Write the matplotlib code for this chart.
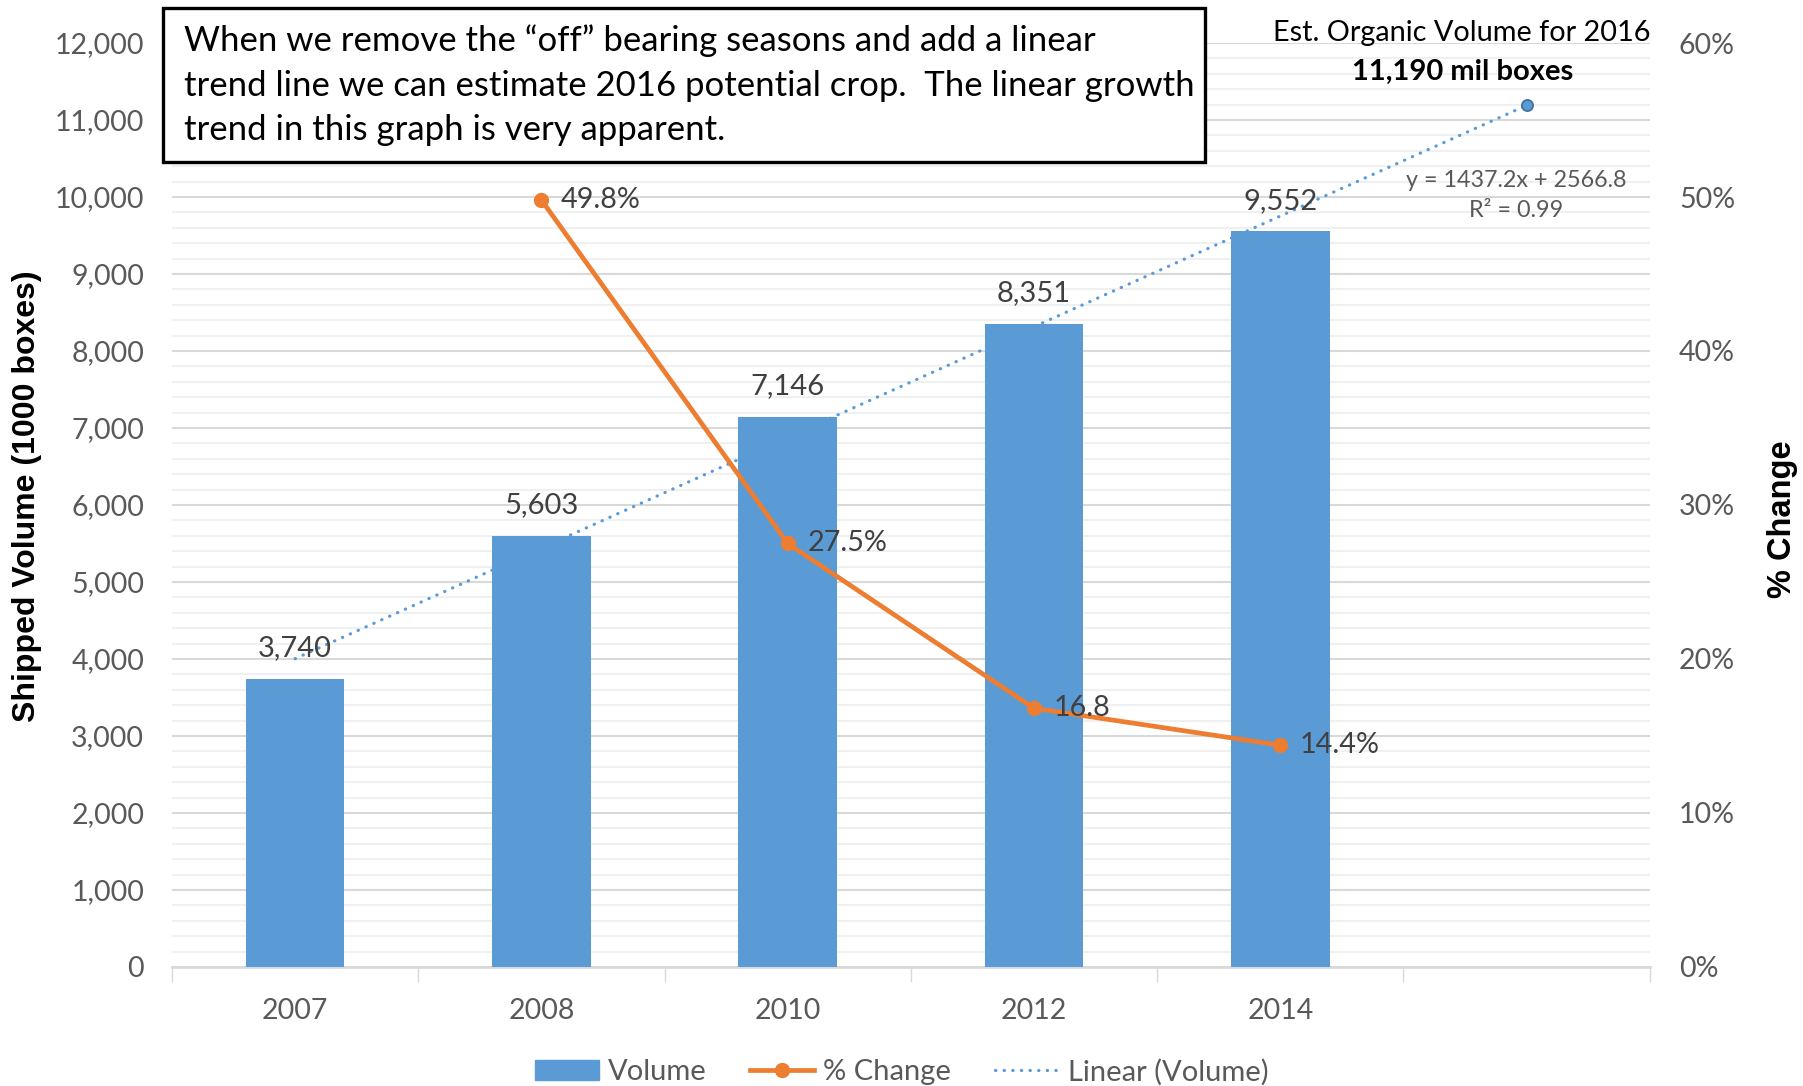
import numpy as np
import matplotlib.pyplot as plt
from matplotlib.lines import Line2D
from matplotlib.patches import Patch, Rectangle
from matplotlib.ticker import FuncFormatter, MultipleLocator

years = ["2007", "2008", "2010", "2012", "2014", ""]
volume = [3740, 5603, 7146, 8351, 9552]
pct_years = ["2008", "2010", "2012", "2014"]
pct_change = [49.8, 27.5, 16.8, 14.4]
pct_labels = ["49.8%", "27.5%", "16.8", "14.4%"]
note_lines = [
    "When we remove the \u201coff\u201d bearing seasons and add a linear",
    "trend line we can estimate 2016 potential crop.  The linear growth",
    "trend in this graph is very apparent.",
]

BLUE = "#5B9BD5"
ORANGE = "#ED7D31"
GRID = "#D9D9D9"
MINOR = "#F0F0F0"
TICK = "#595959"
LABEL = "#404040"
TREND = (0, (0.1, 2.6))

plt.rcParams["font.family"] = ["Lato", "DejaVu Sans"]

fig = plt.figure(figsize=(18.03, 10.86), dpi=100)
ax = fig.add_axes([0.0954, 0.1096, 0.8196, 0.8508])
ax2 = ax.twinx()

x = np.arange(len(years))
xv = x[:len(volume)]
ax.bar(xv, volume, width=0.4, color=BLUE, zorder=3)

# linear trend through the volume bars, projected one slot ahead (2016)
slope, intercept = np.polyfit(xv + 1, volume, 1)
tx = np.array([x[0], x[-1]])
ty = slope * (tx + 1) + intercept
ax.plot(tx, ty, color=BLUE, lw=2.3, linestyle=TREND, dash_capstyle="round", zorder=2)
ax.plot(tx[-1], ty[-1], "o", color=BLUE, mec="#41719C", mew=1.3, ms=8, zorder=4)

for xi, v in zip(xv, volume):
    ax.text(xi, v + 230, f"{v:,}", ha="center", va="bottom", fontsize=21, color=LABEL, zorder=5)

ax.set_xlim(-0.5, len(years) - 0.5)
ax.set_ylim(0, 12000)
ax.yaxis.set_major_locator(MultipleLocator(1000))
ax.yaxis.set_minor_locator(MultipleLocator(200))
ax.yaxis.set_major_formatter(FuncFormatter(lambda v, p: f"{int(v):,}"))
ax.grid(axis="y", which="major", color=GRID, lw=1.5, zorder=0)
ax.grid(axis="y", which="minor", color=MINOR, lw=1.5, zorder=0)
ax.set_axisbelow(True)
ax.tick_params(axis="y", which="both", length=0, labelsize=20.5, labelcolor=TICK, pad=20)

ax.set_xticks(np.arange(-0.5, len(years)), minor=False)
ax.set_xticklabels([])
ax.set_xticks(x, minor=True)
ax.set_xticklabels(years, minor=True)
ax.tick_params(axis="x", which="major", length=11, color=GRID, width=1)
ax.tick_params(axis="x", which="minor", length=0, labelsize=20.5, labelcolor=TICK, pad=22)

for s in ["top", "right", "left"]:
    ax.spines[s].set_visible(False)
    ax2.spines[s].set_visible(False)
ax.spines["bottom"].set_color(GRID)
ax.spines["bottom"].set_linewidth(2)
ax2.spines["bottom"].set_visible(False)

ax.set_ylabel("Shipped Volume (1000 boxes)", family="Liberation Sans", fontweight="bold",
              fontsize=23, color="black")
ax.yaxis.set_label_coords(-0.088, 0.51)

# percent change line on the right axis
px = [years.index(y) for y in pct_years]
ax2.plot(px, pct_change, color=ORANGE, lw=3.4, marker="o", ms=10, zorder=5)
for xi, v, lab in zip(px, pct_change, pct_labels):
    ax2.text(xi + 0.08, v, lab, ha="left", va="center", fontsize=20.7, color=LABEL, zorder=6)
ax2.set_ylim(0, 60)
ax2.yaxis.set_major_locator(MultipleLocator(10))
ax2.yaxis.set_major_formatter(FuncFormatter(lambda v, p: f"{int(v)}%"))
ax2.tick_params(axis="y", length=0, labelsize=20.5, labelcolor=TICK, pad=21)
ax2.set_ylabel("% Change", family="Liberation Sans", fontweight="bold", fontsize=23.5,
               color="black", rotation=90)
ax2.yaxis.set_label_coords(1.0795, 0.485)

# annotation box and 2016 estimate
fig.patches.append(Rectangle((0.0904, 0.8508), 0.5779, 0.1418, transform=fig.transFigure,
                             fc="white", ec="black", lw=2.4, zorder=10))
for line, yy in zip(note_lines, [0.9622, 0.9208, 0.8803]):
    fig.text(0.102, yy, line, ha="left", va="center", fontsize=25, color="black", zorder=11)

fig.text(0.811, 0.970, "Est. Organic Volume for 2016", ha="center", va="center",
         fontsize=20.8, color="black")
fig.text(0.811, 0.934, f"{ty[-1]:,.0f} mil boxes", ha="center", va="center",
         fontsize=21, fontweight="bold", color="black")
fig.text(0.841, 0.834, f"y = {slope:.1f}x + {intercept:.1f}", ha="center", va="center",
         fontsize=16.8, color=TICK)
fig.text(0.841, 0.806, "R\u00b2 = 0.99", ha="center", va="center", fontsize=16.8, color=TICK)

handles = [
    Patch(color=BLUE, label="Volume"),
    Line2D([], [], color=ORANGE, lw=3.4, marker="o", ms=10, label="% Change"),
    Line2D([], [], color=BLUE, lw=2.3, linestyle=TREND, dash_capstyle="round",
           label="Linear (Volume)"),
]
fig.legend(handles=handles, loc="center", bbox_to_anchor=(0.5, 0.013), ncol=3, frameon=False,
           fontsize=21, labelcolor=TICK, handlelength=2.2, columnspacing=1.5, handletextpad=0.3)

fig.savefig("out.png", dpi=100)
